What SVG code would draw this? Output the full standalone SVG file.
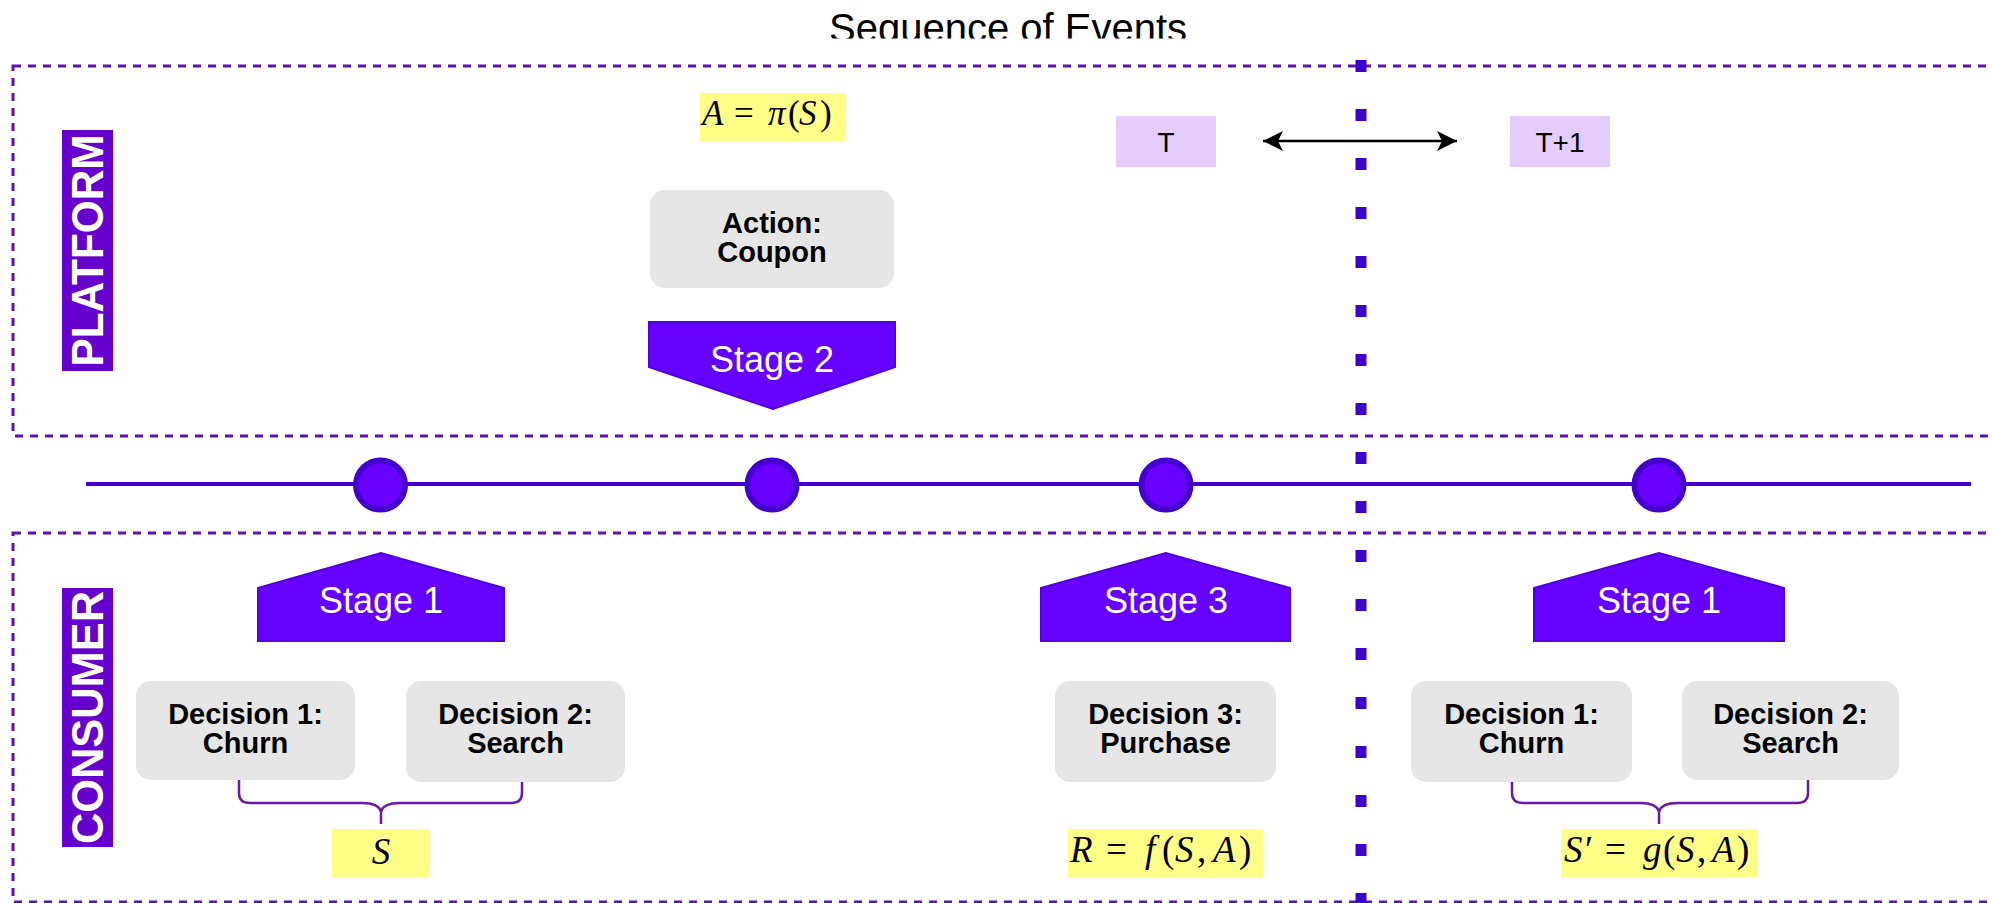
<svg xmlns="http://www.w3.org/2000/svg" width="1992" height="903" viewBox="0 0 1992 903">
<style>
.lane{fill:none;stroke:#5c12b0;stroke-width:3;stroke-dasharray:8 7}
.lbar{fill:#6600cc}
.ltxt{font-family:"Liberation Sans",Arial,sans-serif;font-weight:bold;font-size:44px;fill:#ffffff}
.stage{fill:#6600ff;stroke:#5200dd;stroke-width:2}
.stxt{font-family:"Liberation Sans",Arial,sans-serif;font-size:36px;fill:#ffffff;text-anchor:middle}
.gbox{fill:#e6e6e6}
.btxt{font-family:"Liberation Sans",Arial,sans-serif;font-weight:bold;font-size:29px;fill:#000000;text-anchor:middle}
.ybox{fill:#ffff88}
.math{font-family:"Liberation Serif","Times New Roman",serif;fill:#000000}
.it{font-style:italic}
.tbox{fill:#e5ccff}
.ttxt{font-family:"Liberation Sans",Arial,sans-serif;font-size:28px;fill:#000000;text-anchor:middle}
.dot{fill:#6a00ff;stroke:#4400cc;stroke-width:6}
.brace{fill:none;stroke:#6a1aa8;stroke-width:2.5}
</style>
<defs>
<clipPath id="titleClip"><rect x="0" y="0" width="1992" height="38.5"/></clipPath>
<marker id="ah" viewBox="0 0 20 20" refX="20" refY="10" markerWidth="20" markerHeight="20" markerUnits="userSpaceOnUse" orient="auto-start-reverse">
<path d="M0,0 L20,10 L0,20 L5,10 Z" fill="#000000"/>
</marker>
</defs>

<g id="title" clip-path="url(#titleClip)">
<text x="1008" y="42" font-family="'Liberation Sans',Arial,sans-serif" font-size="40" text-anchor="middle" fill="#000000">Sequence of Events</text>
</g>

<g id="lanes">
<rect class="lane" x="13" y="66" width="2010" height="370"/>
<rect class="lane" x="13" y="533" width="2010" height="369"/>
</g>

<g id="separator">
<line x1="1361" y1="60" x2="1361" y2="903" stroke="#3d00cc" stroke-width="11" stroke-dasharray="12 37"/>
</g>

<g id="label-platform">
<rect class="lbar" x="62" y="130" width="51" height="241"/>
<text class="ltxt" transform="translate(103,250.5) rotate(-90)" text-anchor="middle" textLength="232" lengthAdjust="spacingAndGlyphs">PLATFORM</text>
</g>
<g id="label-consumer">
<rect class="lbar" x="62" y="588" width="51" height="259"/>
<text class="ltxt" transform="translate(103,717.5) rotate(-90)" text-anchor="middle" textLength="253" lengthAdjust="spacingAndGlyphs">CONSUMER</text>
</g>

<g id="connectors">
<line x1="86" y1="484" x2="1971" y2="484" stroke="#4400cc" stroke-width="4"/>
<line x1="1263" y1="141" x2="1457" y2="141" stroke="#000000" stroke-width="2.5" marker-start="url(#ah)" marker-end="url(#ah)"/>
<path class="brace" d="M239,778 V793 Q239,803 250,803 H362 Q379,803 381,812 V824 M522,778 V793 Q522,803 511,803 H400 Q383,803 381,812"/>
<path class="brace" d="M1512,778 V793 Q1512,803 1523,803 H1640 Q1657,803 1659,812 V824 M1808,778 V793 Q1808,803 1797,803 H1678 Q1661,803 1659,812"/>
</g>

<g id="dot1"><circle class="dot" cx="380.5" cy="485" r="24.5"/></g>
<g id="dot2"><circle class="dot" cx="772" cy="485" r="24.5"/></g>
<g id="dot3"><circle class="dot" cx="1166" cy="485" r="24.5"/></g>
<g id="dot4"><circle class="dot" cx="1659" cy="485" r="24.5"/></g>

<g id="formula-a">
<rect class="ybox" x="700" y="93" width="146" height="48"/>
<text class="math" y="125" font-size="35"><tspan class="it" x="702">A</tspan><tspan x="734">=</tspan><tspan class="it" x="768">π</tspan><tspan x="788">(</tspan><tspan class="it" x="799">S</tspan><tspan x="820">)</tspan></text>
</g>

<g id="t-box">
<rect class="tbox" x="1116" y="116" width="100" height="51"/>
<text class="ttxt" x="1166" y="152">T</text>
</g>
<g id="t1-box">
<rect class="tbox" x="1510" y="116" width="100" height="51"/>
<text class="ttxt" x="1560" y="152">T+1</text>
</g>

<g id="action">
<rect class="gbox" x="650" y="190" width="244" height="98" rx="15"/>
<text class="btxt"><tspan x="772" y="233">Action:</tspan><tspan x="772" y="262">Coupon</tspan></text>
</g>

<g id="stage2">
<path class="stage" d="M649,322 H895 V367 L773,409 L649,367 Z"/>
<text class="stxt" x="772" y="372">Stage 2</text>
</g>

<g id="stage1-left">
<path class="stage" d="M258,588 L381,553 L504,588 V641 H258 Z"/>
<text class="stxt" x="381" y="613">Stage 1</text>
</g>
<g id="stage3">
<path class="stage" d="M1041,588 L1166,553 L1290,588 V641 H1041 Z"/>
<text class="stxt" x="1166" y="613">Stage 3</text>
</g>
<g id="stage1-right">
<path class="stage" d="M1534,588 L1659,553 L1784,588 V641 H1534 Z"/>
<text class="stxt" x="1659" y="613">Stage 1</text>
</g>

<g id="decision1-left">
<rect class="gbox" x="136" y="681" width="219" height="99" rx="15"/>
<text class="btxt"><tspan x="245.5" y="724">Decision 1:</tspan><tspan x="245.5" y="753">Churn</tspan></text>
</g>
<g id="decision2-left">
<rect class="gbox" x="406" y="681" width="219" height="101" rx="15"/>
<text class="btxt"><tspan x="515.5" y="724">Decision 2:</tspan><tspan x="515.5" y="753">Search</tspan></text>
</g>
<g id="decision3">
<rect class="gbox" x="1055" y="681" width="221" height="101" rx="15"/>
<text class="btxt"><tspan x="1165.5" y="724">Decision 3:</tspan><tspan x="1165.5" y="753">Purchase</tspan></text>
</g>
<g id="decision1-right">
<rect class="gbox" x="1411" y="681" width="221" height="101" rx="15"/>
<text class="btxt"><tspan x="1521.5" y="724">Decision 1:</tspan><tspan x="1521.5" y="753">Churn</tspan></text>
</g>
<g id="decision2-right">
<rect class="gbox" x="1682" y="681" width="217" height="99" rx="15"/>
<text class="btxt"><tspan x="1790.5" y="724">Decision 2:</tspan><tspan x="1790.5" y="753">Search</tspan></text>
</g>

<g id="formula-s">
<rect class="ybox" x="332" y="829" width="98" height="48"/>
<text class="math it" x="381" y="864" font-size="37" text-anchor="middle">S</text>
</g>
<g id="formula-r">
<rect class="ybox" x="1068" y="829" width="195" height="48"/>
<text class="math" y="862" font-size="37"><tspan class="it" x="1070">R</tspan><tspan x="1106">=</tspan><tspan class="it" x="1145">f</tspan><tspan x="1162">(</tspan><tspan class="it" x="1175">S</tspan><tspan x="1197">,</tspan><tspan class="it" x="1213">A</tspan><tspan x="1239">)</tspan></text>
</g>
<g id="formula-sprime">
<rect class="ybox" x="1561" y="829" width="197" height="48"/>
<text class="math" y="862" font-size="37"><tspan class="it" x="1564">S</tspan><tspan x="1585">′</tspan><tspan x="1605">=</tspan><tspan class="it" x="1643">g</tspan><tspan x="1663">(</tspan><tspan class="it" x="1676">S</tspan><tspan x="1697">,</tspan><tspan class="it" x="1712">A</tspan><tspan x="1737">)</tspan></text>
</g>
</svg>
